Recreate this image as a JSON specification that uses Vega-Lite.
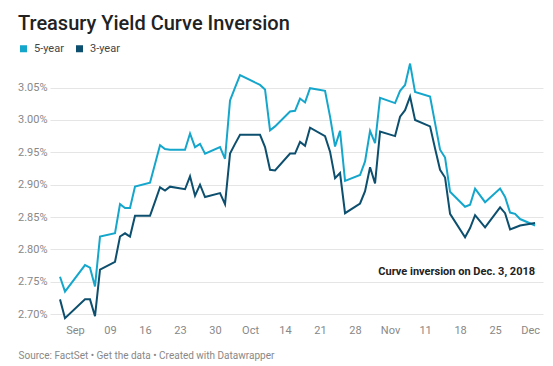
{
  "$schema": "https://vega.github.io/schema/vega-lite/v6.json",
  "width": 493,
  "height": 257,
  "autosize": {"type": "none"},
  "padding": {"left": 50, "top": 62, "right": 10, "bottom": 47},
  "background": "white",
  "config": {"font": "Roboto", "view": {"stroke": null}},
  "title": {
    "text": "Treasury Yield Curve Inversion",
    "anchor": "start",
    "frame": "group",
    "dx": -32,
    "dy": 20,
    "fontSize": 20,
    "font": "Roboto",
    "fontWeight": 500,
    "color": "#222222",
    "baseline": "alphabetic",
    "offset": 13
  },
  "datasets": {
    "yields": [
      {"date": "2018-08-30", "series": "5-year", "value": 2.758},
      {"date": "2018-08-31", "series": "5-year", "value": 2.735},
      {"date": "2018-09-04", "series": "5-year", "value": 2.776},
      {"date": "2018-09-05", "series": "5-year", "value": 2.772},
      {"date": "2018-09-06", "series": "5-year", "value": 2.743},
      {"date": "2018-09-07", "series": "5-year", "value": 2.820},
      {"date": "2018-09-10", "series": "5-year", "value": 2.825},
      {"date": "2018-09-11", "series": "5-year", "value": 2.870},
      {"date": "2018-09-12", "series": "5-year", "value": 2.864},
      {"date": "2018-09-13", "series": "5-year", "value": 2.864},
      {"date": "2018-09-14", "series": "5-year", "value": 2.897},
      {"date": "2018-09-17", "series": "5-year", "value": 2.903},
      {"date": "2018-09-18", "series": "5-year", "value": 2.932},
      {"date": "2018-09-19", "series": "5-year", "value": 2.961},
      {"date": "2018-09-20", "series": "5-year", "value": 2.955},
      {"date": "2018-09-21", "series": "5-year", "value": 2.954},
      {"date": "2018-09-24", "series": "5-year", "value": 2.954},
      {"date": "2018-09-25", "series": "5-year", "value": 2.979},
      {"date": "2018-09-26", "series": "5-year", "value": 2.958},
      {"date": "2018-09-27", "series": "5-year", "value": 2.963},
      {"date": "2018-09-28", "series": "5-year", "value": 2.948},
      {"date": "2018-10-01", "series": "5-year", "value": 2.958},
      {"date": "2018-10-02", "series": "5-year", "value": 2.940},
      {"date": "2018-10-03", "series": "5-year", "value": 3.030},
      {"date": "2018-10-04", "series": "5-year", "value": 3.050},
      {"date": "2018-10-05", "series": "5-year", "value": 3.069},
      {"date": "2018-10-09", "series": "5-year", "value": 3.054},
      {"date": "2018-10-10", "series": "5-year", "value": 3.047},
      {"date": "2018-10-11", "series": "5-year", "value": 2.984},
      {"date": "2018-10-12", "series": "5-year", "value": 2.990},
      {"date": "2018-10-15", "series": "5-year", "value": 3.013},
      {"date": "2018-10-16", "series": "5-year", "value": 3.014},
      {"date": "2018-10-17", "series": "5-year", "value": 3.033},
      {"date": "2018-10-18", "series": "5-year", "value": 3.027},
      {"date": "2018-10-19", "series": "5-year", "value": 3.049},
      {"date": "2018-10-22", "series": "5-year", "value": 3.045},
      {"date": "2018-10-23", "series": "5-year", "value": 3.005},
      {"date": "2018-10-24", "series": "5-year", "value": 2.959},
      {"date": "2018-10-25", "series": "5-year", "value": 2.983},
      {"date": "2018-10-26", "series": "5-year", "value": 2.906},
      {"date": "2018-10-29", "series": "5-year", "value": 2.915},
      {"date": "2018-10-30", "series": "5-year", "value": 2.936},
      {"date": "2018-10-31", "series": "5-year", "value": 2.983},
      {"date": "2018-11-01", "series": "5-year", "value": 2.964},
      {"date": "2018-11-02", "series": "5-year", "value": 3.034},
      {"date": "2018-11-05", "series": "5-year", "value": 3.026},
      {"date": "2018-11-06", "series": "5-year", "value": 3.045},
      {"date": "2018-11-07", "series": "5-year", "value": 3.054},
      {"date": "2018-11-08", "series": "5-year", "value": 3.087},
      {"date": "2018-11-09", "series": "5-year", "value": 3.043},
      {"date": "2018-11-12", "series": "5-year", "value": 3.036},
      {"date": "2018-11-13", "series": "5-year", "value": 2.995},
      {"date": "2018-11-14", "series": "5-year", "value": 2.954},
      {"date": "2018-11-15", "series": "5-year", "value": 2.942},
      {"date": "2018-11-16", "series": "5-year", "value": 2.889},
      {"date": "2018-11-19", "series": "5-year", "value": 2.866},
      {"date": "2018-11-20", "series": "5-year", "value": 2.869},
      {"date": "2018-11-21", "series": "5-year", "value": 2.894},
      {"date": "2018-11-23", "series": "5-year", "value": 2.873},
      {"date": "2018-11-26", "series": "5-year", "value": 2.894},
      {"date": "2018-11-27", "series": "5-year", "value": 2.881},
      {"date": "2018-11-28", "series": "5-year", "value": 2.857},
      {"date": "2018-11-29", "series": "5-year", "value": 2.855},
      {"date": "2018-11-30", "series": "5-year", "value": 2.847},
      {"date": "2018-12-03", "series": "5-year", "value": 2.837},
      {"date": "2018-08-30", "series": "3-year", "value": 2.723},
      {"date": "2018-08-31", "series": "3-year", "value": 2.694},
      {"date": "2018-09-04", "series": "3-year", "value": 2.723},
      {"date": "2018-09-05", "series": "3-year", "value": 2.723},
      {"date": "2018-09-06", "series": "3-year", "value": 2.697},
      {"date": "2018-09-07", "series": "3-year", "value": 2.769},
      {"date": "2018-09-10", "series": "3-year", "value": 2.781},
      {"date": "2018-09-11", "series": "3-year", "value": 2.820},
      {"date": "2018-09-12", "series": "3-year", "value": 2.825},
      {"date": "2018-09-13", "series": "3-year", "value": 2.820},
      {"date": "2018-09-14", "series": "3-year", "value": 2.852},
      {"date": "2018-09-17", "series": "3-year", "value": 2.852},
      {"date": "2018-09-18", "series": "3-year", "value": 2.874},
      {"date": "2018-09-19", "series": "3-year", "value": 2.896},
      {"date": "2018-09-20", "series": "3-year", "value": 2.891},
      {"date": "2018-09-21", "series": "3-year", "value": 2.897},
      {"date": "2018-09-24", "series": "3-year", "value": 2.893},
      {"date": "2018-09-25", "series": "3-year", "value": 2.913},
      {"date": "2018-09-26", "series": "3-year", "value": 2.883},
      {"date": "2018-09-27", "series": "3-year", "value": 2.900},
      {"date": "2018-09-28", "series": "3-year", "value": 2.881},
      {"date": "2018-10-01", "series": "3-year", "value": 2.887},
      {"date": "2018-10-02", "series": "3-year", "value": 2.870},
      {"date": "2018-10-03", "series": "3-year", "value": 2.948},
      {"date": "2018-10-04", "series": "3-year", "value": 2.963},
      {"date": "2018-10-05", "series": "3-year", "value": 2.977},
      {"date": "2018-10-09", "series": "3-year", "value": 2.977},
      {"date": "2018-10-10", "series": "3-year", "value": 2.958},
      {"date": "2018-10-11", "series": "3-year", "value": 2.923},
      {"date": "2018-10-12", "series": "3-year", "value": 2.922},
      {"date": "2018-10-15", "series": "3-year", "value": 2.948},
      {"date": "2018-10-16", "series": "3-year", "value": 2.948},
      {"date": "2018-10-17", "series": "3-year", "value": 2.966},
      {"date": "2018-10-18", "series": "3-year", "value": 2.960},
      {"date": "2018-10-19", "series": "3-year", "value": 2.988},
      {"date": "2018-10-22", "series": "3-year", "value": 2.975},
      {"date": "2018-10-23", "series": "3-year", "value": 2.951},
      {"date": "2018-10-24", "series": "3-year", "value": 2.910},
      {"date": "2018-10-25", "series": "3-year", "value": 2.918},
      {"date": "2018-10-26", "series": "3-year", "value": 2.856},
      {"date": "2018-10-29", "series": "3-year", "value": 2.871},
      {"date": "2018-10-30", "series": "3-year", "value": 2.890},
      {"date": "2018-10-31", "series": "3-year", "value": 2.927},
      {"date": "2018-11-01", "series": "3-year", "value": 2.902},
      {"date": "2018-11-02", "series": "3-year", "value": 2.982},
      {"date": "2018-11-05", "series": "3-year", "value": 2.975},
      {"date": "2018-11-06", "series": "3-year", "value": 3.005},
      {"date": "2018-11-07", "series": "3-year", "value": 3.015},
      {"date": "2018-11-08", "series": "3-year", "value": 3.036},
      {"date": "2018-11-09", "series": "3-year", "value": 3.000},
      {"date": "2018-11-12", "series": "3-year", "value": 2.990},
      {"date": "2018-11-13", "series": "3-year", "value": 2.956},
      {"date": "2018-11-14", "series": "3-year", "value": 2.923},
      {"date": "2018-11-15", "series": "3-year", "value": 2.911},
      {"date": "2018-11-16", "series": "3-year", "value": 2.855},
      {"date": "2018-11-19", "series": "3-year", "value": 2.819},
      {"date": "2018-11-20", "series": "3-year", "value": 2.833},
      {"date": "2018-11-21", "series": "3-year", "value": 2.853},
      {"date": "2018-11-23", "series": "3-year", "value": 2.834},
      {"date": "2018-11-26", "series": "3-year", "value": 2.865},
      {"date": "2018-11-27", "series": "3-year", "value": 2.856},
      {"date": "2018-11-28", "series": "3-year", "value": 2.831},
      {"date": "2018-11-29", "series": "3-year", "value": 2.834},
      {"date": "2018-11-30", "series": "3-year", "value": 2.837},
      {"date": "2018-12-03", "series": "3-year", "value": 2.841}
    ],
    "notes": [
      {"date": "2018-12-03", "value": 2.766, "label": "Curve inversion on Dec. 3, 2018"}
    ]
  },
  "layer": [
    {
      "data": {"name": "yields"},
      "mark": {"type": "line", "strokeWidth": 2, "interpolate": "linear"},
      "encoding": {
        "x": {
          "field": "date",
          "type": "temporal",
          "scale": {
            "type": "utc",
            "domain": [
              {"year": 2018, "month": 8, "date": 28, "utc": true},
              {"year": 2018, "month": 12, "date": 4, "hours": 14, "utc": true}
            ]
          },
          "axis": {
            "values": [
              {"year": 2018, "month": 9, "date": 2, "utc": true},
              {"year": 2018, "month": 9, "date": 9, "utc": true},
              {"year": 2018, "month": 9, "date": 16, "utc": true},
              {"year": 2018, "month": 9, "date": 23, "utc": true},
              {"year": 2018, "month": 9, "date": 30, "utc": true},
              {"year": 2018, "month": 10, "date": 7, "utc": true},
              {"year": 2018, "month": 10, "date": 14, "utc": true},
              {"year": 2018, "month": 10, "date": 21, "utc": true},
              {"year": 2018, "month": 10, "date": 28, "utc": true},
              {"year": 2018, "month": 11, "date": 4, "utc": true},
              {"year": 2018, "month": 11, "date": 11, "utc": true},
              {"year": 2018, "month": 11, "date": 18, "utc": true},
              {"year": 2018, "month": 11, "date": 25, "utc": true},
              {"year": 2018, "month": 12, "date": 2, "utc": true}
            ],
            "tickCount": 30,
            "labelExpr": "utcdate(datum.value) <= 7 ? utcFormat(datum.value, '%b') : utcFormat(datum.value, '%d')",
            "labelOverlap": false,
            "grid": false,
            "domain": false,
            "ticks": false,
            "labelPadding": 5,
            "labelFontSize": 11,
            "labelColor": "#888888",
            "labelFont": "Roboto",
            "title": "Source: FactSet • Get the data • Created with Datawrapper",
            "titleAnchor": "start",
            "titleAlign": "left",
            "titleBaseline": "alphabetic",
            "titleX": -32,
            "titleY": 39,
            "titleFontSize": 10,
            "titleFontWeight": "normal",
            "titleColor": "#888888",
            "titleFont": "Roboto"
          }
        },
        "y": {
          "field": "value",
          "type": "quantitative",
          "scale": {"domain": [2.6927, 3.0894], "nice": false, "zero": false},
          "axis": {
            "values": [2.70, 2.75, 2.80, 2.85, 2.90, 2.95, 3.00, 3.05],
            "tickCount": 20,
            "labelExpr": "format(datum.value, '.2f') + '%'",
            "labelOverlap": false,
            "title": null,
            "domain": false,
            "ticks": false,
            "labelPadding": 3,
            "gridColor": "#e5e5e5",
            "gridWidth": 1,
            "labelColor": "#888888",
            "labelFontSize": 11,
            "labelFont": "Roboto"
          }
        },
        "color": {
          "field": "series",
          "type": "nominal",
          "scale": {"domain": ["5-year", "3-year"], "range": ["#15a6cc", "#0d4f6e"]},
          "legend": {
            "orient": "none",
            "legendX": -32,
            "legendY": -19,
            "direction": "horizontal",
            "title": null,
            "symbolType": "square",
            "symbolSize": 49,
            "labelFontSize": 11,
            "labelColor": "#444444",
            "labelFont": "Roboto",
            "columnPadding": 10,
            "labelOffset": 5,
            "padding": 0,
            "encode": {
              "symbols": {
                "update": {
                  "fill": {"scale": "color", "field": "value"},
                  "strokeWidth": {"value": 0}
                }
              }
            }
          }
        }
      }
    },
    {
      "data": {"name": "notes"},
      "mark": {"type": "text", "align": "right", "baseline": "middle", "fontSize": 11, "fontWeight": "bold", "font": "Roboto", "color": "#222222"},
      "encoding": {
        "x": {"field": "date", "type": "temporal"},
        "y": {"field": "value", "type": "quantitative"},
        "text": {"field": "label"}
      }
    }
  ]
}
